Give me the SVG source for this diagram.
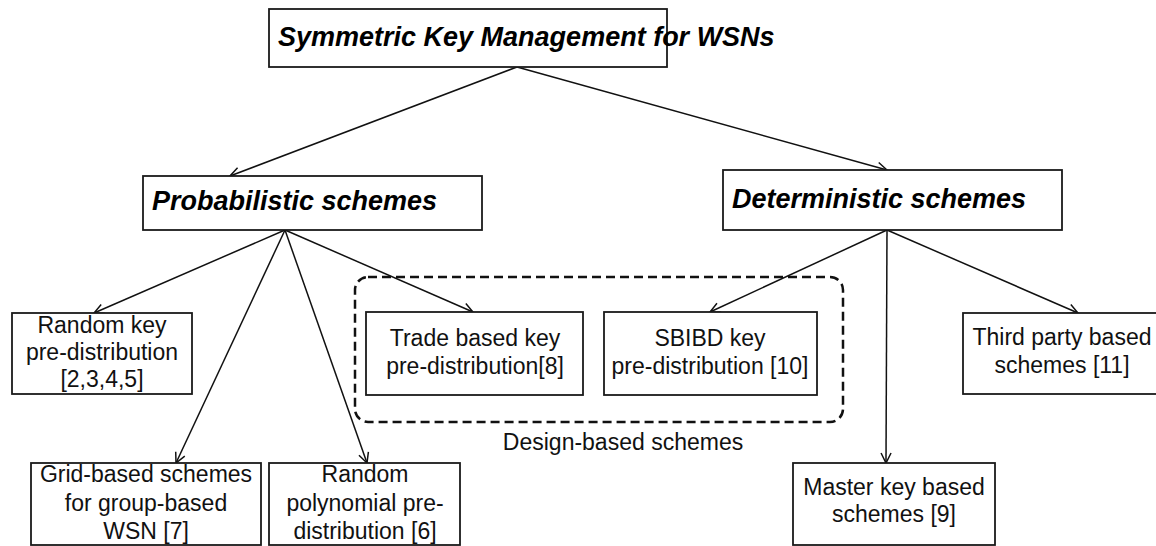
<svg xmlns="http://www.w3.org/2000/svg" width="1156" height="546" viewBox="0 0 1156 546">
<defs>
<style>
.box{fill:#fff;stroke:#1a1a1a;stroke-width:1.8}
.hd{font-family:"Liberation Sans",Arial,sans-serif;font-weight:bold;font-style:italic;font-size:27px;fill:#000}
.tx{font-family:"Liberation Sans",Arial,sans-serif;font-size:23px;fill:#111;text-anchor:middle}
.cn{stroke:#111;stroke-width:1.5;fill:none;marker-end:url(#ah)}
</style>
<marker id="ah" markerUnits="userSpaceOnUse" markerWidth="14" markerHeight="14" refX="11" refY="6" orient="auto">
<path d="M1,1 L11,6 L1,11" fill="none" stroke="#111" stroke-width="1.5"/>
</marker>
</defs>
<rect width="1156" height="546" fill="#fff"/>
<g id="connectors">
<line class="cn" x1="517" y1="67" x2="230" y2="176"/>
<line class="cn" x1="517" y1="67" x2="887" y2="170"/>
<line class="cn" x1="285" y1="230" x2="94" y2="313"/>
<line class="cn" x1="285" y1="230" x2="176" y2="463"/>
<line class="cn" x1="285" y1="230" x2="367" y2="463"/>
<line class="cn" x1="285" y1="230" x2="473" y2="312"/>
<line class="cn" x1="887" y1="230" x2="710" y2="312"/>
<line class="cn" x1="887" y1="230" x2="886" y2="463"/>
<line class="cn" x1="887" y1="230" x2="1078" y2="313"/>
</g>
<g id="design-group">
<rect x="355" y="277" width="488" height="145" rx="13" fill="none" stroke="#111" stroke-width="2.5" stroke-dasharray="9 5"/>
<text class="tx" x="623" y="450" font-size="22.5">Design-based schemes</text>
</g>
<g id="root">
<rect class="box" x="269" y="9" width="398" height="58"/>
<text class="hd" x="278" y="46" font-size="20.5">Symmetric Key Management for WSNs</text>
</g>
<g id="probabilistic">
<rect class="box" x="143" y="176" width="339" height="54"/>
<text class="hd" x="152" y="210">Probabilistic schemes</text>
</g>
<g id="deterministic">
<rect class="box" x="723" y="170" width="339" height="60"/>
<text class="hd" x="732" y="208">Deterministic schemes</text>
</g>
<g id="random-key">
<rect class="box" x="12" y="313" width="180" height="81"/>
<text class="tx" x="102" y="333">Random key</text>
<text class="tx" x="102" y="360">pre-distribution</text>
<text class="tx" x="102" y="387">[2,3,4,5]</text>
</g>
<g id="trade">
<rect class="box" x="366" y="312" width="217" height="83"/>
<text class="tx" x="475" y="346">Trade based key</text>
<text class="tx" x="475" y="374">pre-distribution[8]</text>
</g>
<g id="sbibd">
<rect class="box" x="604" y="312" width="213" height="83"/>
<text class="tx" x="710" y="346">SBIBD key</text>
<text class="tx" x="710" y="374">pre-distribution [10]</text>
</g>
<g id="third-party">
<rect class="box" x="963" y="313" width="200" height="81"/>
<text class="tx" x="1062" y="345">Third party based</text>
<text class="tx" x="1062" y="373">schemes [11]</text>
</g>
<g id="grid">
<rect class="box" x="31" y="463" width="230" height="82"/>
<text class="tx" x="146" y="482">Grid-based schemes</text>
<text class="tx" x="146" y="511">for group-based</text>
<text class="tx" x="146" y="539">WSN [7]</text>
</g>
<g id="random-poly">
<rect class="box" x="269" y="463" width="191" height="82"/>
<text class="tx" x="365" y="482">Random</text>
<text class="tx" x="365" y="511">polynomial pre-</text>
<text class="tx" x="365" y="539">distribution [6]</text>
</g>
<g id="master-key">
<rect class="box" x="793" y="463" width="202" height="82"/>
<text class="tx" x="894" y="495">Master key based</text>
<text class="tx" x="894" y="522">schemes [9]</text>
</g>
</svg>
